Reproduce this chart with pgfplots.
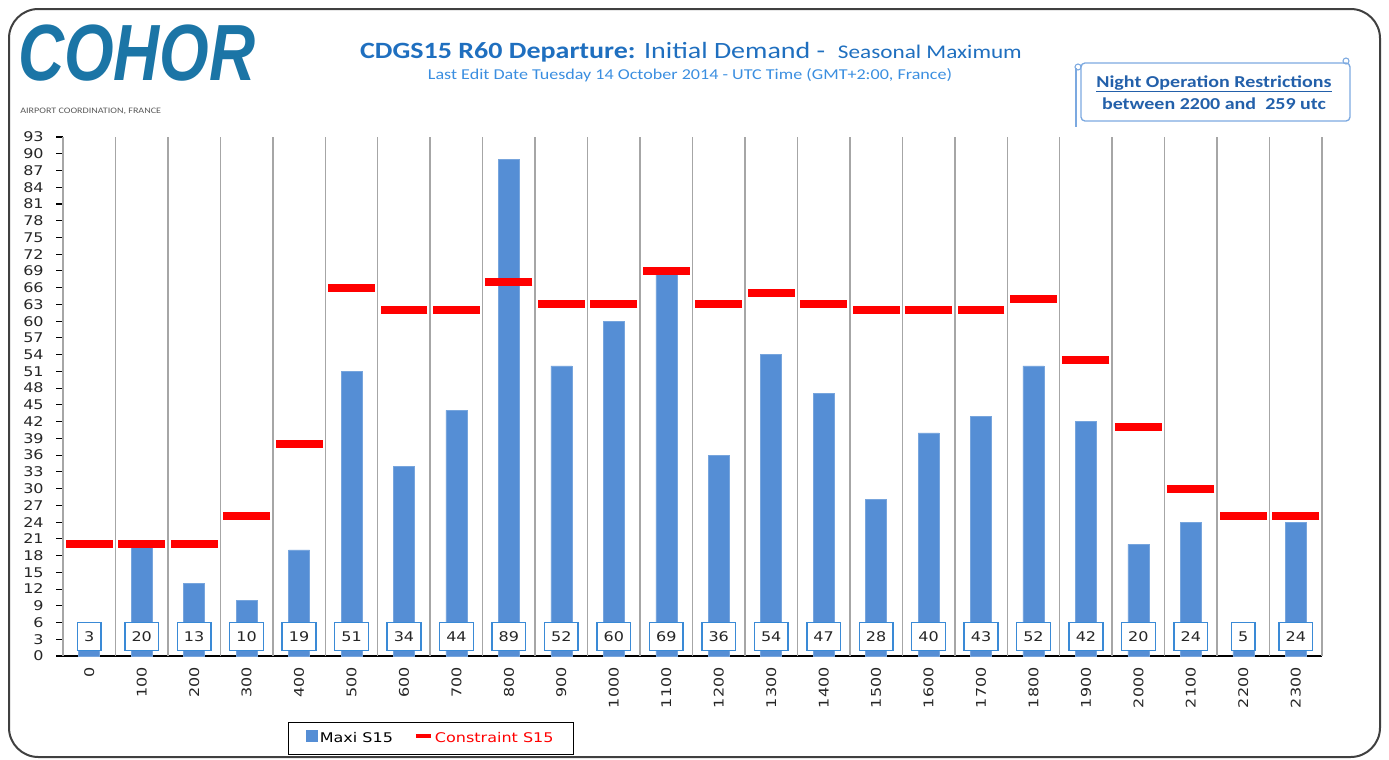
\documentclass[border=0pt]{standalone}
\usepackage{pgfplots}
\usepackage{pgfplotstable}
\pgfplotsset{compat=1.18}
\usepackage{fontspec}
\setmainfont{DejaVu Sans}
\newfontfamily\verd[FakeStretch=1.2]{DejaVu Sans}
\newfontfamily\calibri[FakeStretch=1.2]{Carlito}
\newfontfamily\logofont{Liberation Sans}
\definecolor{barblue}{HTML}{558ED5}
\definecolor{boxblue}{HTML}{3A8AD6}
\definecolor{titleblue}{HTML}{1F6FBF}
\definecolor{subblue}{HTML}{3A8EE0}
\definecolor{nightblue}{HTML}{2360AA}
\definecolor{nightborder}{HTML}{7CA9E0}
\definecolor{logoblue}{HTML}{1B75A6}
\definecolor{gridgray}{HTML}{A6A6A6}

\pgfplotstableread{
x maxi cons
0 3 20
1 20 20
2 13 20
3 10 25
4 19 38
5 51 66
6 34 62
7 44 62
8 89 67
9 52 63
10 60 63
11 69 69
12 36 63
13 54 65
14 47 63
15 28 62
16 40 62
17 43 62
18 52 64
19 42 53
20 20 41
21 24 30
22 5 25
23 24 25
}\data

\begin{document}
\begin{tikzpicture}
\begin{scope}[x=0.75pt,y=-0.75pt]
\path[use as bounding box] (0,0) rectangle (1389,760);
\draw[black!75, line width=1.5pt, rounded corners=22pt] (9,9) rectangle (1380,757);
% logo
\node[anchor=base west, inner sep=0, text=logoblue, xscale=0.92, yscale=1.15] at (18,80)
  {\logofont\fontsize{52}{52}\selectfont\bfseries\itshape COHOR};
\node[anchor=west, inner sep=0, text=black!65] at (20,111)
  {\calibri\fontsize{6.3}{7}\selectfont AIRPORT COORDINATION, FRANCE};
% title
\node[anchor=base, inner sep=0, text=titleblue] at (691,58)
  {\calibri\fontsize{17.5}{20}\selectfont\textbf{CDGS15 R60 Departure:} Initial Demand -\ \ {\fontsize{14.5}{16}\selectfont Seasonal Maximum}};
\node[anchor=base, inner sep=0, text=subblue] at (690,79)
  {\calibri\fontsize{11.3}{13}\selectfont Last Edit Date Tuesday 14 October 2014 - UTC Time (GMT+2:00, France)};
% night box
\draw[nightborder, line width=1pt, rounded corners=3pt] (1081,63) rectangle (1350,121);
\draw[nightborder, line width=1pt] (1076,68) -- (1076,127);
\draw[nightborder, line width=0.8pt] (1078,67) circle (3);
\draw[nightborder, line width=0.8pt] (1346,61) circle (3);
\node[anchor=base, inner sep=0, text=nightblue] at (1214,87)
  {\calibri\fontsize{12.5}{14}\selectfont\bfseries\underline{Night Operation Restrictions}};
\node[anchor=base, inner sep=0, text=nightblue] at (1214,109)
  {\calibri\fontsize{12.5}{14}\selectfont\bfseries between 2200 and\ \ 259 utc};
\end{scope}

\begin{axis}[
  at={(47.25pt,-492pt)}, anchor=south west,
  scale only axis, width=944.25pt, height=389.25pt,
  xmin=-0.5, xmax=23.5, ymin=0, ymax=93,
  clip=false,
  axis x line*=bottom, axis y line*=left,
  axis line style={black, line width=1pt},
  /pgf/number format/assume math mode=true,
  tick align=outside,
  major tick length=5pt,
  ytick={0,3,...,93},
  ytick style={black, line width=0.8pt},
  yticklabel style={font=\verd\fontsize{10}{12}\selectfont, text=black!85, xshift=-6pt},
  xtick={0,...,23},
  xticklabels={0,100,200,300,400,500,600,700,800,900,1000,1100,1200,1300,1400,1500,1600,1700,1800,1900,2000,2100,2200,2300},
  x tick style={draw=none},
  xticklabel style={font=\verd\fontsize{10}{12}\selectfont, text=black!85, rotate=90, anchor=east},
  extra x ticks={-0.5,0.5,...,23.5},
  extra x tick labels={},
  extra x tick style={grid=major, tick style={draw=black, line width=0.8pt}},
  grid style={gridgray, line width=1.1pt},
  legend style={at={(0.1787,-0.127)}, anchor=north west, draw=black, line width=1pt,
    font=\verd\fontsize{10}{12}\selectfont, legend columns=2, inner xsep=13pt, inner ysep=5.5pt},
  legend cell align=left,
  /tikz/every even column/.append style={column sep=14pt},
]
\addplot[ybar, bar width=15.75pt, fill=barblue, draw=barblue!80!white, line width=0.4pt,
  legend image code/.code={\fill[barblue] (0pt,-2pt) rectangle (8pt,6pt);}]
  table[x=x, y=maxi]{\data};
\addlegendentry{Maxi S15}
\addplot[only marks, mark=-, mark size=17.6pt, mark options={draw=red, line width=6pt},
  legend image code/.code={\draw[red, line width=2.5pt] (0pt,2pt) -- (11pt,2pt);}]
  table[x=x, y=cons]{\data};
\addlegendentry{\textcolor{red}{Constraint S15}}
\addplot[forget plot, draw=none, mark=none, nodes near coords, point meta=explicit,
  nodes near coords style={font=\verd\fontsize{10}{12}\selectfont, text=black!85, fill=white,
    draw=boxblue, line width=1.1pt, inner xsep=5pt, inner ysep=0pt, minimum height=21pt, anchor=center}]
  table[x=x, y expr=3.46, meta=maxi]{\data};
\end{axis}
\end{tikzpicture}
\end{document}
